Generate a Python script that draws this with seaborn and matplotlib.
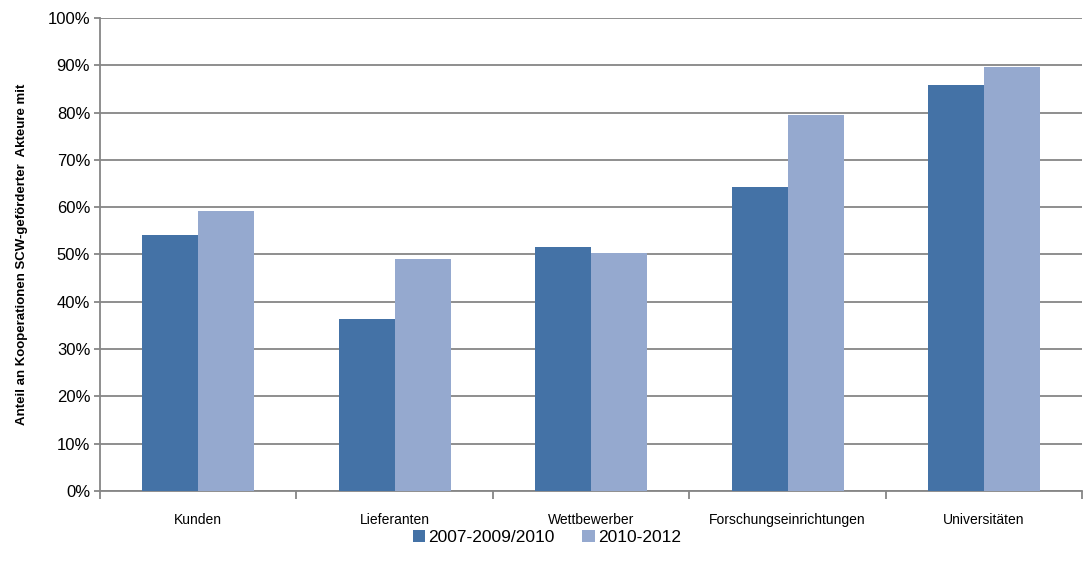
import matplotlib
matplotlib.use("Agg")
import matplotlib.pyplot as plt
import matplotlib.ticker as mticker
import seaborn as sns
import pandas as pd

categories = ["Kunden", "Lieferanten", "Wettbewerber", "Forschungseinrichtungen", "Universitäten"]
series_names = ["2007-2009/2010", "2010-2012"]
values_2007 = [54.1, 36.4, 51.6, 64.3, 85.8]
values_2010 = [59.2, 49.0, 50.3, 79.5, 89.6]
colors = ["#4472A6", "#95A9CF"]

df = pd.DataFrame({
    "Kategorie": categories * 2,
    "Zeitraum": [series_names[0]] * 5 + [series_names[1]] * 5,
    "Anteil": values_2007 + values_2010,
})

sns.set_style("white")
plt.rcParams["font.family"] = ["Liberation Sans Narrow", "Liberation Sans", "DejaVu Sans"]
plt.rcParams["text.color"] = "black"
plt.rcParams["xtick.labelcolor"] = "black"
plt.rcParams["ytick.labelcolor"] = "black"

fig = plt.figure(figsize=(10.83, 5.73), dpi=100)
ax = fig.add_axes([0.0923, 0.1431, 0.907, 0.8255])

sns.barplot(data=df, x="Kategorie", y="Anteil", hue="Zeitraum", palette=colors,
            width=0.57, gap=0, saturation=1, linewidth=0, ax=ax, zorder=3)

grid_c = "#868686"
ax.set_ylim(0, 100)
ax.set_xlim(-0.5, 4.5)
ax.yaxis.set_major_locator(mticker.MultipleLocator(10))
ax.yaxis.set_major_formatter(mticker.FuncFormatter(lambda v, p: f"{int(round(v))}%"))
ax.grid(axis="y", color=grid_c, linewidth=1.3, zorder=0)
ax.set_axisbelow(True)

for s in ["top", "right"]:
    ax.spines[s].set_visible(False)
for s in ["left", "bottom"]:
    ax.spines[s].set_color(grid_c)
    ax.spines[s].set_linewidth(1.3)

ax.tick_params(axis="y", length=4, width=1.3, color=grid_c, labelsize=12, pad=3, left=True,
               labelcolor="black")
ax.tick_params(axis="x", which="major", length=0, labelsize=10, pad=16, labelcolor="black")
ax.set_xticks([i - 0.5 for i in range(6)], minor=True)
ax.tick_params(axis="x", which="minor", length=6, width=1.3, color=grid_c, bottom=True)

ax.set_xlabel("")
ax.set_ylabel("Anteil an Kooperationen SCW-geförderter  Akteure mit", fontsize=9.5,
              fontweight="bold", labelpad=14, color="black",
              family=["Liberation Sans", "DejaVu Sans"])

ax.legend_.remove()
handles, labels = ax.get_legend_handles_labels()
fig.legend(handles, labels, loc="center", bbox_to_anchor=(0.505, 0.062), ncol=2,
           frameon=False, fontsize=12.5, handlelength=0.7, handleheight=0.7,
           handletextpad=0.2, columnspacing=1.6, labelcolor="black")

fig.savefig("out.png", dpi=100)
